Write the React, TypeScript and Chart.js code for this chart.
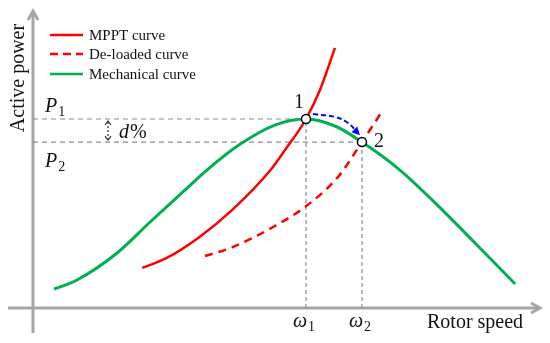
import React, { useEffect, useRef } from "react";
import { Chart, registerables } from "chart.js";

Chart.register(...registerables);

// Normalised units: rotor speed in units of ω1, power in units of P1
const OMEGA1 = 1.0;
const OMEGA2 = 1.205;
const P1 = 1.0;
const P2 = 0.878;

const mpptX = [0.4, 0.49, 0.61, 0.73, 0.87, 0.923, 1.0, 1.051, 1.106];
const mpptY = [0.212, 0.265, 0.376, 0.519, 0.73, 0.836, 1.0, 1.153, 1.376];

const deloadX = [0.63, 0.733, 0.886, 0.996, 1.117, 1.205, 1.282];
const deloadY = [0.275, 0.323, 0.434, 0.534, 0.693, 0.878, 1.048];

const mechX = [0.077, 0.161, 0.308, 0.429, 0.549, 0.637, 0.758, 0.886, 1.0, 1.106, 1.205, 1.344, 1.473, 1.619, 1.766];
const mechY = [0.1, 0.148, 0.291, 0.455, 0.614, 0.73, 0.866, 0.968, 1.0, 0.963, 0.878, 0.73, 0.556, 0.344, 0.127];

const moveX = [1.026, 1.106, 1.154, 1.19];
const moveY = [1.026, 1.011, 0.979, 0.926];

const legendLabels = ["MPPT curve", "De-loaded curve", "Mechanical curve"];
const axisTitles = { x: "Rotor speed", y: "Active power" };

const RED = "#ff0000";
const GREEN = "#00b050";
const GREY = "#8c8c8c";
const AXIS = "#a6a6a6";
const SERIF = '"Liberation Serif", "Times New Roman", serif';

const pts = (xs: number[], ys: number[]) => xs.map((x, i) => ({ x, y: ys[i] }));

const overlay = {
  id: "overlay",
  beforeDatasetsDraw(chart: any) {
    const { ctx, scales } = chart;
    const xs = scales.x, ys = scales.y;
    const ox = xs.getPixelForValue(0);
    const oy = ys.getPixelForValue(0);
    ctx.save();
    ctx.strokeStyle = AXIS;
    ctx.lineWidth = 3;
    ctx.lineCap = "butt";
    // y axis
    ctx.beginPath();
    ctx.moveTo(ox, 333);
    ctx.lineTo(ox, 11);
    ctx.stroke();
    ctx.beginPath();
    ctx.moveTo(ox - 5, 20);
    ctx.lineTo(ox, 11);
    ctx.lineTo(ox + 5, 20);
    ctx.stroke();
    // x axis
    ctx.beginPath();
    ctx.moveTo(8, oy);
    ctx.lineTo(540, oy);
    ctx.stroke();
    ctx.beginPath();
    ctx.moveTo(531, oy - 5);
    ctx.lineTo(540, oy);
    ctx.lineTo(531, oy + 5);
    ctx.stroke();
    ctx.restore();
  },
  afterDatasetsDraw(chart: any) {
    const { ctx, scales } = chart;
    const xs = scales.x, ys = scales.y;
    ctx.save();
    // blue arrow head
    const n = moveX.length;
    const ex = xs.getPixelForValue(moveX[n - 1]);
    const ey = ys.getPixelForValue(moveY[n - 1]);
    const px = xs.getPixelForValue(moveX[n - 2]);
    const py = ys.getPixelForValue(moveY[n - 2]);
    const ang = Math.atan2(ey - py, ex - px);
    const tx = ex + Math.cos(ang) * 3;
    const ty = ey + Math.sin(ang) * 3;
    ctx.fillStyle = "#0000ff";
    ctx.beginPath();
    ctx.moveTo(tx, ty);
    ctx.lineTo(tx - 8 * Math.cos(ang) + 4 * Math.sin(ang), ty - 8 * Math.sin(ang) - 4 * Math.cos(ang));
    ctx.lineTo(tx - 8 * Math.cos(ang) - 4 * Math.sin(ang), ty - 8 * Math.sin(ang) + 4 * Math.cos(ang));
    ctx.closePath();
    ctx.fill();

    // d% double arrow
    const dx = 108;
    const y1 = ys.getPixelForValue(P1) + 2;
    const y2 = ys.getPixelForValue(P2) - 2;
    ctx.strokeStyle = "#333";
    ctx.lineWidth = 1.2;
    ctx.setLineDash([2, 2]);
    ctx.beginPath();
    ctx.moveTo(dx, y1 + 1);
    ctx.lineTo(dx, y2 - 1);
    ctx.stroke();
    ctx.setLineDash([]);
    ctx.beginPath();
    ctx.moveTo(dx - 3, y1 + 4);
    ctx.lineTo(dx, y1);
    ctx.lineTo(dx + 3, y1 + 4);
    ctx.moveTo(dx - 3, y2 - 4);
    ctx.lineTo(dx, y2);
    ctx.lineTo(dx + 3, y2 - 4);
    ctx.stroke();

    ctx.fillStyle = "#111";
    ctx.textBaseline = "alphabetic";
    ctx.textAlign = "left";
    ctx.font = `italic 20px ${SERIF}`;
    ctx.fillText("d", 119, 138);
    ctx.font = `20px ${SERIF}`;
    ctx.fillText("%", 130, 138);

    // P labels
    const drawSub = (main: string, sub: string, x: number, y: number) => {
      ctx.font = `italic 20px ${SERIF}`;
      ctx.fillText(main, x, y);
      const w = ctx.measureText(main).width;
      ctx.font = `14px ${SERIF}`;
      ctx.fillText(sub, x + w + 1, y + 4);
    };
    drawSub("P", "1", 45, ys.getPixelForValue(P1) - 7);
    drawSub("P", "2", 45, ys.getPixelForValue(P2) + 25);
    drawSub("ω", "1", xs.getPixelForValue(OMEGA1) - 13, 327);
    drawSub("ω", "2", xs.getPixelForValue(OMEGA2) - 13, 327);

    ctx.font = `20px ${SERIF}`;
    ctx.textAlign = "center";
    ctx.textBaseline = "middle";
    ctx.fillText("1", xs.getPixelForValue(OMEGA1) - 7, ys.getPixelForValue(P1) - 16);
    ctx.fillText("2", xs.getPixelForValue(OMEGA2) + 17, ys.getPixelForValue(P2));

    // axis titles
    ctx.textAlign = "left";
    ctx.textBaseline = "alphabetic";
    ctx.fillText(axisTitles.x, 427, 328);
    ctx.save();
    ctx.translate(24, 78);
    ctx.rotate(-Math.PI / 2);
    ctx.textAlign = "center";
    ctx.fillText(axisTitles.y, 0, 0);
    ctx.restore();

    // legend
    const cols = [RED, RED, GREEN];
    const dashes = [[], [8, 5], []];
    const ly = [35, 54, 74];
    ctx.font = `15px ${SERIF}`;
    ctx.textBaseline = "middle";
    legendLabels.forEach((lab, i) => {
      ctx.strokeStyle = cols[i];
      ctx.lineWidth = 2.5;
      ctx.setLineDash(dashes[i]);
      ctx.beginPath();
      ctx.moveTo(50, ly[i]);
      ctx.lineTo(83, ly[i]);
      ctx.stroke();
      ctx.setLineDash([]);
      ctx.fillStyle = "#111";
      ctx.fillText(lab, 89, ly[i] + 1);
    });
    ctx.restore();
  },
};

export default function App() {
  const ref = useRef<HTMLCanvasElement | null>(null);
  useEffect(() => {
    document.body.style.margin = "0";
    const canvas = ref.current;
    if (!canvas) return;
    const guide = (data: any[], dash: number[]) => ({
      data,
      showLine: true,
      borderColor: GREY,
      borderWidth: 1.2,
      borderDash: dash,
      pointRadius: 0,
      tension: 0,
      order: 10,
    });
    const chart = new Chart(canvas, {
      type: "scatter",
      data: {
        datasets: [
          guide([{ x: 0, y: P1 }, { x: OMEGA1, y: P1 }], [5, 4]),
          guide([{ x: 0, y: P2 }, { x: OMEGA2, y: P2 }], [5, 4]),
          guide([{ x: OMEGA1, y: 0 }, { x: OMEGA1, y: P1 }], [4, 3]),
          guide([{ x: OMEGA2, y: 0 }, { x: OMEGA2, y: P2 }], [4, 3]),
          {
            label: legendLabels[2],
            data: pts(mechX, mechY),
            showLine: true,
            borderColor: GREEN,
            borderWidth: 3,
            pointRadius: 0,
            cubicInterpolationMode: "monotone",
            order: 5,
          },
          {
            label: legendLabels[0],
            data: pts(mpptX, mpptY),
            showLine: true,
            borderColor: RED,
            borderWidth: 2.5,
            pointRadius: 0,
            cubicInterpolationMode: "monotone",
            order: 4,
          },
          {
            label: legendLabels[1],
            data: pts(deloadX, deloadY),
            showLine: true,
            borderColor: RED,
            borderWidth: 2.5,
            borderDash: [8, 6],
            pointRadius: 0,
            cubicInterpolationMode: "monotone",
            order: 4,
          },
          {
            data: pts(moveX, moveY),
            showLine: true,
            borderColor: "#0000ff",
            borderWidth: 2,
            borderDash: [5, 3],
            pointRadius: 0,
            tension: 0.4,
            order: 3,
          },
          {
            data: [{ x: OMEGA1, y: P1 }, { x: OMEGA2, y: P2 }],
            showLine: false,
            pointRadius: 4.5,
            pointBackgroundColor: "#ffffff",
            pointBorderColor: "#000000",
            pointBorderWidth: 1.5,
            order: 0,
          },
        ] as any,
      },
      options: {
        animation: false,
        responsive: false,
        maintainAspectRatio: false,
        layout: { padding: 0, autoPadding: false },
        plugins: { legend: { display: false }, tooltip: { enabled: false } },
        scales: {
          x: { type: "linear", display: false, min: -33 / 273, max: 517 / 273 },
          y: { type: "linear", display: false, min: -35 / 189, max: 308 / 189 },
        },
      } as any,
      plugins: [overlay],
    });
    return () => chart.destroy();
  }, []);
  return <canvas ref={ref} width={550} height={343} style={{ display: "block" }} />;
}
